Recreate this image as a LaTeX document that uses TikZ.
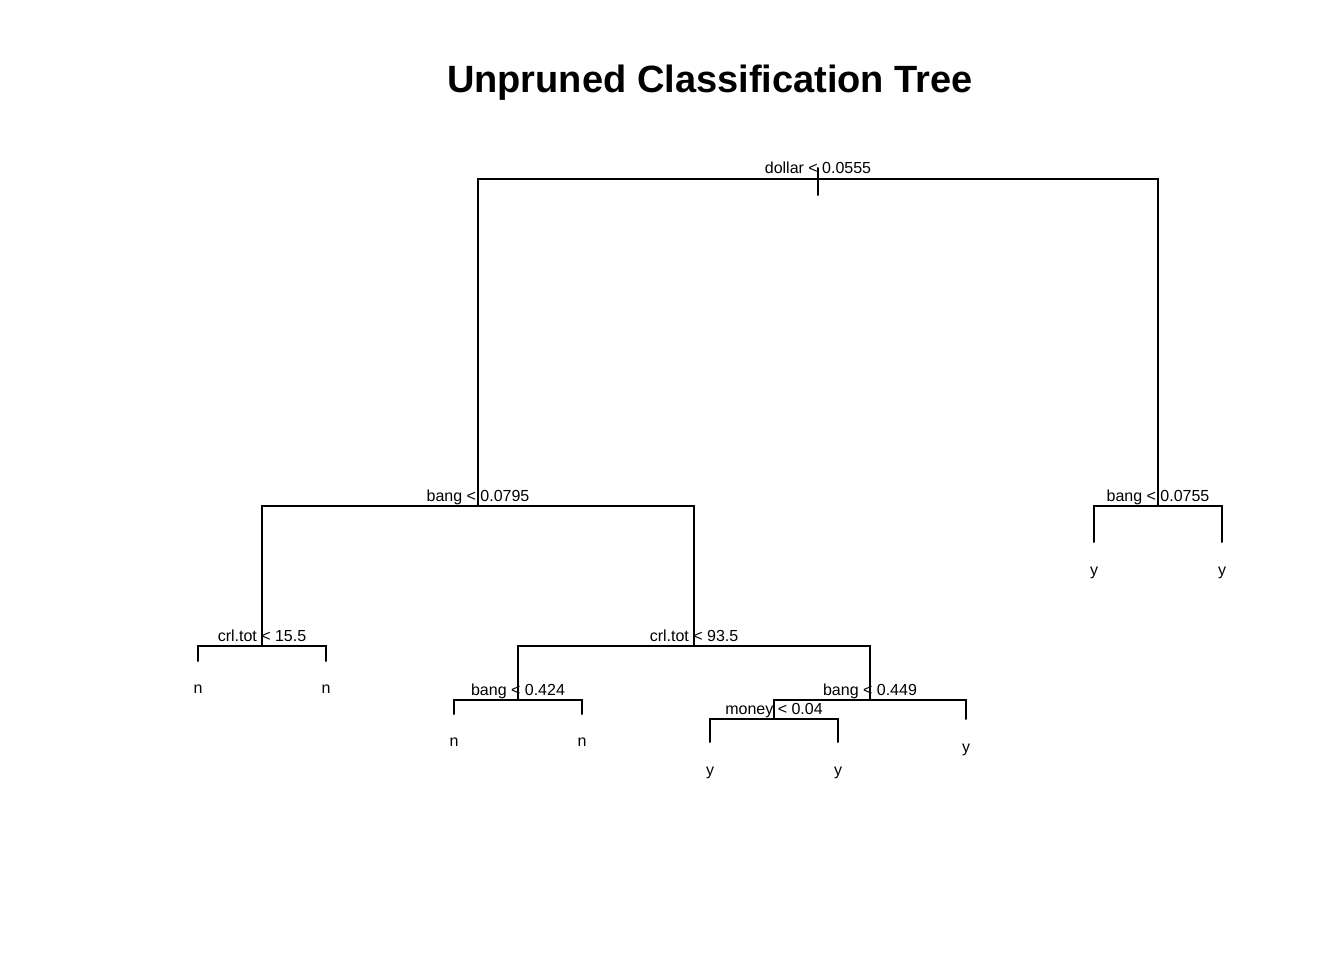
\documentclass[tikz,border=0pt]{standalone}
\usepackage{fontspec}
\setmainfont{Liberation Sans}
\begin{document}
\begin{tikzpicture}[x=1pt,y=-1pt,
  edge/.style={line width=2pt, line cap=round, line join=miter},
  splitlab/.style={anchor=base, inner sep=0pt, font=\fontsize{16}{18}\selectfont},
  leaflab/.style={anchor=base, inner sep=0pt, font=\fontsize{16}{18}\selectfont},
  titlelab/.style={anchor=base, inner sep=0pt, font=\fontsize{38}{42}\selectfont\bfseries}]
\useasboundingbox (0,0) rectangle (1344,960);
\fill[white] (0,0) rectangle (1344,960);
% title
\node[titlelab] (title) at (710,93) {Unpruned Classification Tree};
% split points
\coordinate (rtop) at (818,168);
\coordinate (rbot) at (818,195);
\coordinate (root) at (818,179);
\coordinate (n1) at (478,506);
\coordinate (n2) at (1158,506);
\coordinate (n3) at (262,646);
\coordinate (n4) at (694,646);
\coordinate (n5) at (518,700);
\coordinate (n6) at (870,700);
\coordinate (n7) at (774,719);
% leaf ends
\coordinate (l1) at (1094,542);
\coordinate (l2) at (1222,542);
\coordinate (l3) at (198,661);
\coordinate (l4) at (326,661);
\coordinate (l5) at (454,714);
\coordinate (l6) at (582,714);
\coordinate (l7) at (966,719);
\coordinate (l8) at (710,742);
\coordinate (l9) at (838,742);
% edges
\draw[edge] (rtop) -- (rbot);
\draw[edge] (n1) |- (root) -| (n2);
\draw[edge] (n3) |- (n1) -| (n4);
\draw[edge] (l1) |- (n2) -| (l2);
\draw[edge] (l3) |- (n3) -| (l4);
\draw[edge] (n5) |- (n4) -| (n6);
\draw[edge] (l5) |- (n5) -| (l6);
\draw[edge] (n7) |- (n6) -| (l7);
\draw[edge] (l8) |- (n7) -| (l9);
% split labels
\node[splitlab] (t0) at ([yshift=5pt]root) {dollar < 0.0555};
\node[splitlab] (t1) at ([yshift=5pt]n1) {bang < 0.0795};
\node[splitlab] (t2) at ([yshift=5pt]n2) {bang < 0.0755};
\node[splitlab] (t3) at ([yshift=5pt]n3) {crl.tot < 15.5};
\node[splitlab] (t4) at ([yshift=5pt]n4) {crl.tot < 93.5};
\node[splitlab] (t5) at ([yshift=5pt]n5) {bang < 0.424};
\node[splitlab] (t6) at ([yshift=5pt]n6) {bang < 0.449};
\node[splitlab] (t7) at ([yshift=5pt]n7) {money < 0.04};
% leaf labels
\node[leaflab] (y1) at ([yshift=-33pt]l1) {y};
\node[leaflab] (y2) at ([yshift=-33pt]l2) {y};
\node[leaflab] (y3) at ([yshift=-32pt]l3) {n};
\node[leaflab] (y4) at ([yshift=-32pt]l4) {n};
\node[leaflab] (y5) at ([yshift=-32pt]l5) {n};
\node[leaflab] (y6) at ([yshift=-32pt]l6) {n};
\node[leaflab] (y7) at ([yshift=-33pt]l7) {y};
\node[leaflab] (y8) at ([yshift=-33pt]l8) {y};
\node[leaflab] (y9) at ([yshift=-33pt]l9) {y};
\end{tikzpicture}
\end{document}
